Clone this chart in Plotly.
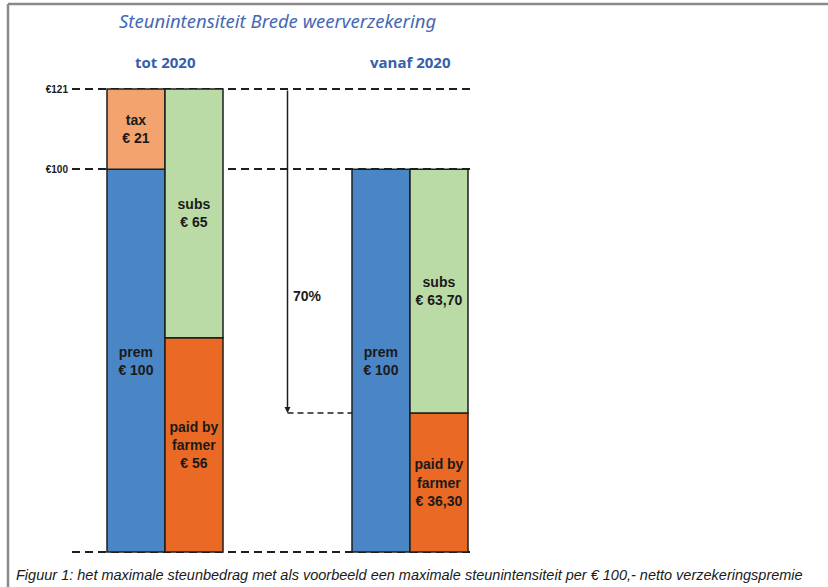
import plotly.graph_objects as go

# ---- data ----
groups = ["tot 2020", "vanaf 2020"]
group_pos = [0, 1]
prem = [100, 100]
tax = [21, 0]
subs = [65, 63.70]
paid_by_farmer = [56, 36.30]
total_max = 121
share_pct = 70
tick_vals = [0, 100, 121]
tick_text = ["", "<b>€100</b>", "<b>€121</b>"]

def eur(v):
    s = f"{v:.2f}".replace(".", ",") if v != int(v) else f"{int(v)}"
    return "€ " + s

NARROW = "Liberation Sans Narrow, Arial Narrow, Liberation Sans, Arial, sans-serif"
BW = 58 / 245  # bar width in axis units

BLUE = "#4a85c6"
TAX = "#f2a36e"
GREEN = "#badba5"
ORANGE = "#ea6a25"
LINE = dict(color="#1e1e1e", width=1.5)
TXT = dict(family=NARROW, size=14, color="#1a1a1a")

fig = go.Figure()

# left column of each group: prem (+ tax on top)
fig.add_trace(go.Bar(
    x=group_pos, y=prem, base=[0, 0], width=BW, offset=-BW,
    marker=dict(color=BLUE, line=LINE),
    text=[f"<b>prem<br>{eur(v)}</b>" for v in prem],
    textposition="inside", insidetextanchor="middle", textangle=0,
    textfont=TXT, showlegend=False, hoverinfo="skip"))
fig.add_trace(go.Bar(
    x=[group_pos[0]], y=[tax[0]], base=[prem[0]], width=BW, offset=-BW,
    marker=dict(color=TAX, line=LINE),
    text=[f"<b>tax<br>{eur(tax[0])}</b>"],
    textposition="inside", insidetextanchor="middle", textangle=0,
    textfont=TXT, showlegend=False, hoverinfo="skip"))
# right column: paid by farmer + subs on top
fig.add_trace(go.Bar(
    x=group_pos, y=paid_by_farmer, base=[0, 0], width=BW, offset=0,
    marker=dict(color=ORANGE, line=LINE),
    text=[f"<b>paid by<br>farmer<br>{eur(v)}</b>" for v in paid_by_farmer],
    textposition="inside", insidetextanchor="middle", textangle=0,
    textfont=TXT, showlegend=False, hoverinfo="skip"))
fig.add_trace(go.Bar(
    x=group_pos, y=subs, base=paid_by_farmer, width=BW, offset=0,
    marker=dict(color=GREEN, line=LINE),
    text=[f"<b>subs<br>{eur(v)}</b>" for v in subs],
    textposition="inside", insidetextanchor="middle", textangle=0,
    textfont=TXT, showlegend=False, hoverinfo="skip"))

# 70% arrow from the top level down to what the farmer pays
arrow_x = 0.5
arrow_end = total_max * (100 - share_pct) / 100
fig.add_annotation(x=arrow_x, y=arrow_end, ax=arrow_x, ay=total_max,
                   xref="x", yref="y", axref="x", ayref="y", text="",
                   showarrow=True, arrowhead=2, arrowsize=0.8, arrowwidth=1.5,
                   arrowcolor="#1e1e1e")
fig.add_shape(type="line", x0=arrow_x, x1=group_pos[1] - BW, y0=arrow_end, y1=arrow_end,
              xref="x", yref="y", line=dict(color="#1e1e1e", width=1.5, dash="6px,4px"))
fig.add_annotation(x=arrow_x, y=67, xref="x", yref="y", text=f"<b>{share_pct}%</b>",
                   showarrow=False, xanchor="left", xshift=3,
                   font=dict(family=NARROW, size=14, color="#1a1a1a"))

# layout geometry (pixels) used only to place titles / frame in paper coords
PL, PR, PT, PB = 72, 472, 86, 555
def px_x(p):
    return (p - PL) / (PR - PL)
def px_y(p):
    return (PB - p) / (PB - PT)

# titles
fig.add_annotation(x=px_x(117), y=px_y(21), xref="paper", yref="paper",
                   text="<i>Steunintensiteit Brede weerverzekering</i>",
                   showarrow=False, xanchor="left", yanchor="middle",
                   font=dict(family="Noto Sans, sans-serif", size=18.5, color="#4468b6"))
for g, p in zip(groups, group_pos):
    fig.add_annotation(x=p, y=px_y(62), xref="x", yref="paper", text=f"<b>{g}</b>",
                       showarrow=False, yanchor="middle",
                       font=dict(family="Open Sans, sans-serif", size=15, color="#3560ab"))

# caption
fig.add_annotation(x=px_x(14), y=px_y(575), xref="paper", yref="paper",
                   text="<i>Figuur 1: het maximale steunbedrag met als voorbeeld een maximale steunintensiteit per € 100,- netto verzekeringspremie</i>",
                   showarrow=False, xanchor="left", yanchor="middle",
                   font=dict(family=NARROW, size=14.5, color="#1a1a1a"))

# frame
fig.add_shape(type="line", xref="paper", yref="paper", x0=px_x(8), x1=px_x(8), y0=px_y(4), y1=px_y(600),
              line=dict(color="#8a8a8a", width=2.5))
fig.add_shape(type="line", xref="paper", yref="paper", x0=px_x(8), x1=px_x(840), y0=px_y(4), y1=px_y(4),
              line=dict(color="#8a8a8a", width=2.5))

upp = total_max / (552 - 89)  # axis units per pixel
fig.update_layout(
    width=828, height=587, autosize=False,
    margin=dict(l=PL, r=828 - PR, t=PT, b=587 - PB),
    plot_bgcolor="white", paper_bgcolor="white",
    barmode="overlay",
    uniformtext=dict(minsize=14, mode="show"),
    xaxis=dict(range=[(PL - 165) / 245, (PR - 165) / 245], showgrid=False, zeroline=False,
               showticklabels=False, showline=False, fixedrange=True),
    yaxis=dict(range=[-(PB - 552) * upp, total_max + (89 - PT) * upp],
               tickvals=tick_vals, ticktext=tick_text,
               showgrid=True, gridcolor="#1e1e1e", gridwidth=2, griddash="8px,5px",
               zeroline=False, showline=False, ticks="", ticklabelstandoff=3,
               tickfont=dict(family=NARROW, size=10, color="#1a1a1a")),
)

fig.write_html("out.html", config={"displayModeBar": False},
               post_script="document.body.style.margin='0';document.body.style.overflow='hidden';")
